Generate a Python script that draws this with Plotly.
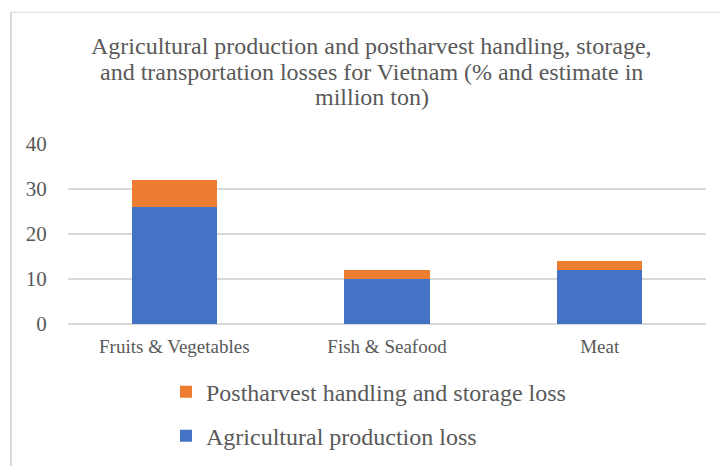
import plotly.graph_objects as go

categories = ["Fruits & Vegetables", "Fish & Seafood", "Meat"]
production_loss = [26, 10, 12]
postharvest_loss = [6, 2, 2]
y_ticks = [0, 10, 20, 30, 40]

title_lines = [
    "Agricultural production and postharvest handling, storage,",
    "and transportation losses for Vietnam (% and estimate in",
    "million ton)",
]

FONT = "Liberation Serif"
GREY = "#595959"
GRID = "#d9d9d9"

# plot-area geometry (pixels) used to convert to paper coordinates
PL, PR, PT, PB = 68, 706, 143.7, 324.3


def px_to_paper_y(py):
    return (PB - py) / (PB - PT)


def px_to_paper_x(px):
    return (px - PL) / (PR - PL)


fig = go.Figure()
fig.add_trace(go.Bar(
    x=categories, y=production_loss, name="Agricultural production loss",
    marker=dict(color="#4472c4", line=dict(width=0)),
    legendgroup="a", legendrank=2,
))
fig.add_trace(go.Bar(
    x=categories, y=postharvest_loss, name="Postharvest handling and storage loss",
    marker=dict(color="#ed7d31", line=dict(width=0)),
    legendgroup="b", legendrank=1,
))

title_centers = [45, 71, 97]
annotations = [
    dict(text=t, x=px_to_paper_x(371.5), y=px_to_paper_y(c), xref="paper", yref="paper",
         xanchor="center", yanchor="middle", showarrow=False,
         font=dict(family=FONT, size=24, color=GREY))
    for t, c in zip(title_lines, title_centers)
]

fig.update_layout(
    width=720, height=466,
    barmode="stack", bargap=0.6,
    paper_bgcolor="white", plot_bgcolor="white",
    margin=dict(l=PL, r=720 - PR, t=PT, b=466 - PB, autoexpand=False),
    font=dict(family=FONT, color=GREY),
    annotations=annotations,
    legend=dict(x=px_to_paper_x(166), y=px_to_paper_y(370), xanchor="left", yanchor="top",
                orientation="v", traceorder="grouped", tracegroupgap=10,
                font=dict(family=FONT, size=24, color=GREY),
                bgcolor="rgba(0,0,0,0)"),
    xaxis=dict(showgrid=False, showline=False, zeroline=False,
               tickfont=dict(family=FONT, size=19, color=GREY),
               ticks="outside", ticklen=5, tickcolor="rgba(0,0,0,0)"),
    yaxis=dict(range=[0, 40], tickvals=y_ticks, showgrid=True, gridcolor=GRID,
               gridwidth=1.5, zeroline=True, zerolinecolor=GRID, zerolinewidth=1.5,
               showline=False,
               tickfont=dict(family=FONT, size=21, color=GREY),
               ticks="outside", ticklen=16, tickcolor="rgba(0,0,0,0)"),
    shapes=[
        dict(type="line", xref="paper", yref="paper",
             x0=px_to_paper_x(11), x1=px_to_paper_x(11), y0=-1.0, y1=px_to_paper_y(11.5),
             line=dict(color=GRID, width=2)),
        dict(type="line", xref="paper", yref="paper",
             x0=px_to_paper_x(11), x1=1.1, y0=px_to_paper_y(11.5), y1=px_to_paper_y(11.5),
             line=dict(color=GRID, width=1)),
    ],
)

fig.write_html("out.html")
